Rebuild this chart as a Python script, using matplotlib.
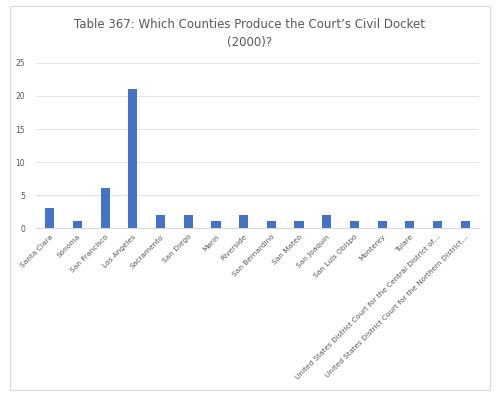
import matplotlib
matplotlib.use("Agg")
import matplotlib.pyplot as plt
from matplotlib.patches import Rectangle

counties = ['Santa Clara', 'Sonoma', 'San Francisco', 'Los Angeles', 'Sacramento',
            'San Diego', 'Marin', 'Riverside', 'San Bernardino', 'San Mateo',
            'San Joaquin', 'San Luis Obispo', 'Monterey', 'Tulare',
            'United States District Court for the Central District of\u2026',
            'United States District Court for the Northern District\u2026']
counts = [3, 1, 6, 21, 2, 2, 1, 2, 1, 1, 2, 1, 1, 1, 1, 1]
yticks = [0, 5, 10, 15, 20, 25]

txt = '#595959'
fig = plt.figure(figsize=(5, 3.96), dpi=100)
# outer chart border
fig.patches.append(Rectangle((10/500, 6/396), 480/500, 384/396, transform=fig.transFigure,
                             fill=False, edgecolor='#d9d9d9', linewidth=0.8))
ax = fig.add_axes([0.072, 0.424, 0.886, 0.417])
x = range(len(counties))
ax.bar(x, counts, width=0.33, color='#4472c4', zorder=3)
ax.set_xlim(-0.5, len(counties) - 0.5)
ax.set_ylim(0, 25)
ax.set_yticks(yticks)
ax.yaxis.grid(True, color='#e3e3e3', linewidth=0.7, zorder=0)
for s in ['top', 'right', 'left']:
    ax.spines[s].set_visible(False)
ax.spines['bottom'].set_color('#d9d9d9')
ax.tick_params(axis='both', length=0, colors=txt, labelsize=5.5)
ax.set_xticks(list(x))
ax.set_xticklabels(counties, rotation=45, ha='right', rotation_mode='anchor', fontsize=5.3)
ax.tick_params(axis='x', pad=4)
ax.tick_params(axis='y', pad=8)
fig.text(0.5, 0.915, "Table 367: Which Counties Produce the Court\u2019s Civil Docket\n(2000)?",
         ha='center', va='center', fontsize=8.5, color=txt, linespacing=1.5)
fig.savefig('out.png', dpi=100)
